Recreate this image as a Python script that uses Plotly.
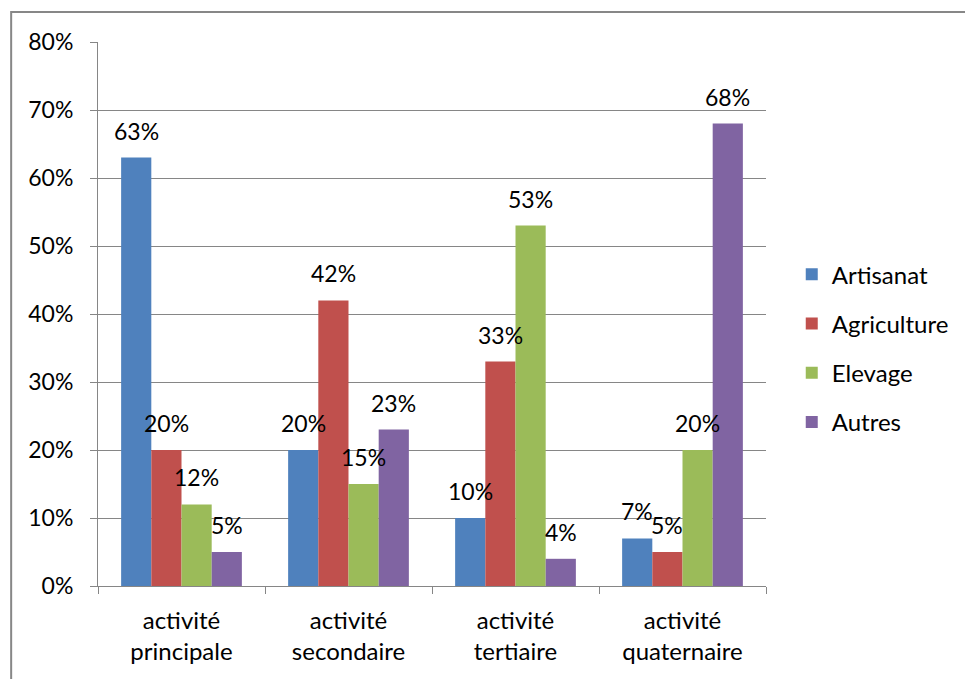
import plotly.graph_objects as go

categories = ["activité<br>principale", "activité<br>secondaire", "activité<br>tertiaire", "activité<br>quaternaire"]
series_names = ["Artisanat", "Agriculture", "Elevage", "Autres"]
artisanat = [0.63, 0.20, 0.10, 0.07]
agriculture = [0.20, 0.42, 0.33, 0.05]
elevage = [0.12, 0.15, 0.53, 0.20]
autres = [0.05, 0.23, 0.04, 0.68]
y_ticks = [0, 0.1, 0.2, 0.3, 0.4, 0.5, 0.6, 0.7, 0.8]
y_tick_labels = ["0%", "10%", "20%", "30%", "40%", "50%", "60%", "70%", "80%"]

colors = ["#4F81BD", "#C0504D", "#9BBB59", "#8064A2"]
values = [artisanat, agriculture, elevage, autres]
FONT = "Lato"

fig = go.Figure()
for i, (name, vals) in enumerate(zip(series_names, values)):
    fig.add_trace(go.Bar(
        x=categories, y=vals, name=name,
        marker=dict(color=colors[i], line=dict(width=0)),
        legendgroup=name,
    ))

# data labels above bars
bar_px = 30.3
offsets = [(-1.5 + i) * bar_px for i in range(4)]
for i, vals in enumerate(values):
    for c, v in zip(categories, vals):
        fig.add_annotation(
            x=c, y=v, text=f"{round(v*100)}%", showarrow=False,
            xanchor="center", yanchor="bottom", xshift=offsets[i], yshift=11,
            font=dict(family=FONT, size=23, color="#000000"),
        )

# outer chart border (top and left visible)
fig.add_shape(type="rect", xref="paper", yref="paper",
              x0=-0.13, y0=-0.3, x1=1.6, y1=1.055,
              line=dict(color="#878787", width=2), layer="below")

fig.update_layout(
    width=965, height=679,
    margin=dict(l=98, r=198, t=42, b=93),
    paper_bgcolor="white", plot_bgcolor="white",
    barmode="group", bargap=0.277, bargroupgap=0,
    font=dict(family=FONT, size=23, color="#000000"),
    showlegend=True,
    legend=dict(x=1.037, y=0.437, xanchor="left", yanchor="middle",
                font=dict(family=FONT, size=24, color="#000000"),
                tracegroupgap=15, bgcolor="rgba(0,0,0,0)"),
)
fig.update_xaxes(
    showline=True, linecolor="#868686", linewidth=1,
    ticks="outside", ticklen=7, tickcolor="#868686", tickson="boundaries",
    showgrid=False, ticklabelstandoff=13,
    tickfont=dict(family=FONT, size=24, color="#000000"),
)
fig.update_yaxes(
    range=[0, 0.8], tickvals=y_ticks, ticktext=y_tick_labels,
    showline=True, linecolor="#868686", linewidth=1,
    ticks="outside", ticklen=7, tickcolor="#868686",
    showgrid=True, gridcolor="#868686", gridwidth=1,
    zeroline=False, ticklabelstandoff=12,
    tickfont=dict(family=FONT, size=23, color="#000000"),
)

fig.write_html("out.html")
